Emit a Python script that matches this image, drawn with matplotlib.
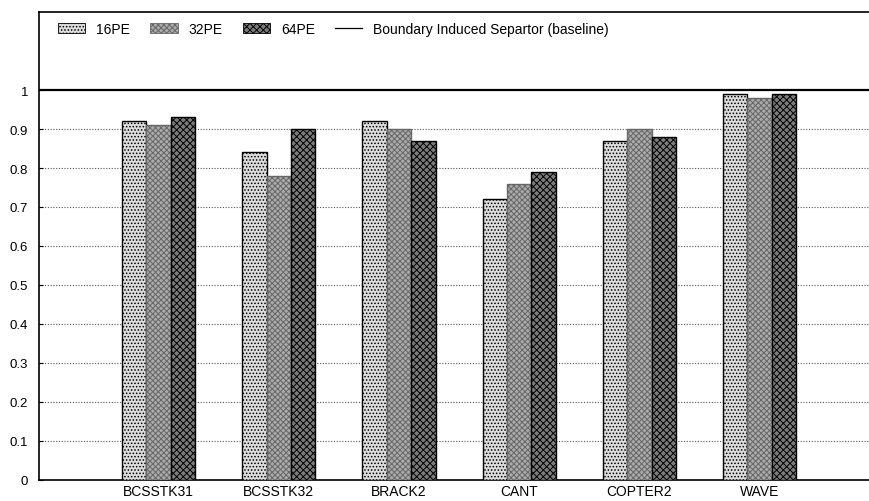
import matplotlib.pyplot as plt
import numpy as np
from matplotlib.lines import Line2D
from matplotlib.patches import Patch

plt.rcParams["font.family"] = ["Liberation Sans", "DejaVu Sans"]
plt.rcParams["hatch.linewidth"] = 0.7

matrices = ["BCSSTK31", "BCSSTK32", "BRACK2", "CANT", "COPTER2", "WAVE"]
series_names = ["16PE", "32PE", "64PE"]
pe16 = [0.92, 0.84, 0.92, 0.72, 0.87, 0.99]
pe32 = [0.91, 0.78, 0.90, 0.76, 0.90, 0.98]
pe64 = [0.93, 0.90, 0.87, 0.79, 0.88, 0.99]
baseline = 1.0
baseline_label = "Boundary Induced Separtor (baseline)"
yticks = [0, 0.1, 0.2, 0.3, 0.4, 0.5, 0.6, 0.7, 0.8, 0.9, 1]

# halftone-like fills: light dots, denser dots, dark checker
styles = [
    dict(facecolor="#dcdcdc", hatch=".....", edgecolor="black"),
    dict(facecolor="#ababab", hatch="xxxxxx", edgecolor="#666666"),
    dict(facecolor="#7c7c7c", hatch="xxxxx", edgecolor="black"),
]

fig = plt.figure(figsize=(8.69, 5.02), dpi=100)
ax = fig.add_axes([0.045, 0.042, 0.955, 0.932])

x = np.arange(len(matrices))
width = 0.203
for k, (vals, st) in enumerate(zip([pe16, pe32, pe64], styles)):
    ax.bar(x + (k - 1) * width, vals, width, linewidth=1.0, zorder=3, **st)

# dotted reference grid below the baseline
for yv in yticks[1:-1]:
    ax.axhline(yv, color="#555555", linestyle=(0, (1, 1.5)), linewidth=0.8, zorder=1)
ax.axhline(baseline, color="black", linewidth=1.6, zorder=2)

ax.set_xlim(-0.993, 5.91)
ax.set_ylim(0, 1.2)
ax.set_yticks(yticks)
ax.set_yticklabels([f"{v:g}" for v in yticks], fontsize=9.5)
ax.set_xticks(x)
ax.set_xticklabels(matrices, fontsize=10)
ax.tick_params(axis="x", length=0, pad=3)
ax.tick_params(axis="y", length=3, direction="in", pad=8)
ax.spines["right"].set_visible(False)
for side in ("left", "top", "bottom"):
    ax.spines[side].set_linewidth(1.2)

handles = [Patch(linewidth=0.6, **st) for st in styles]
handles.append(Line2D([], [], color="black", linewidth=0.9))
ax.legend(handles, series_names + [baseline_label], loc="upper left",
          bbox_to_anchor=(0.008, 1.006), ncol=4, frameon=False, fontsize=10,
          handlelength=1.95, handleheight=0.75, handletextpad=0.8, columnspacing=1.45)

fig.savefig("out.png", dpi=100)
